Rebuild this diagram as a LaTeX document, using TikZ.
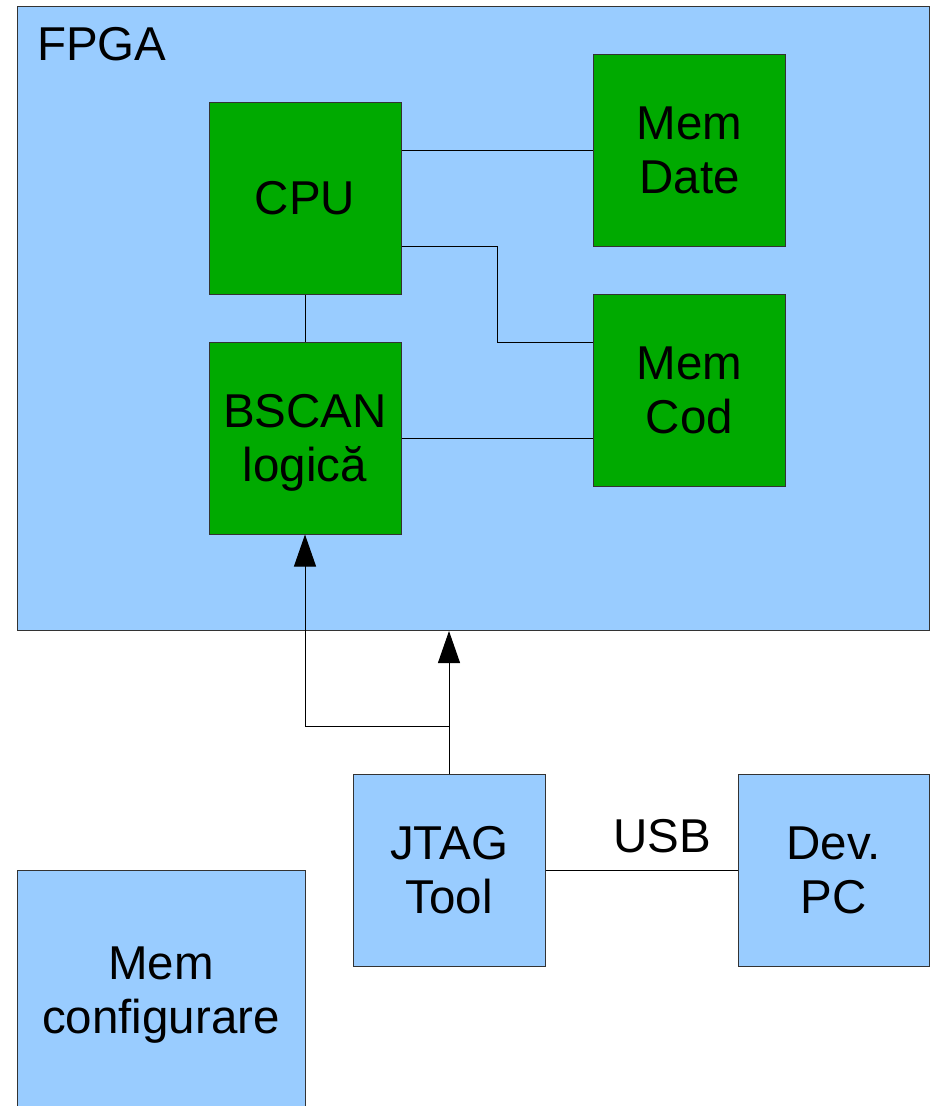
\documentclass[tikz,border=0pt]{standalone}
\usepackage{fontspec}
\setmainfont{Liberation Sans}
\usetikzlibrary{arrows.meta,positioning}
\definecolor{lblue}{HTML}{99CCFF}
\definecolor{dgreen}{HTML}{00AA00}
\definecolor{edge}{HTML}{333333}
\begin{document}
\begin{tikzpicture}[x=1pt,y=-1pt,
  every node/.style={font=\fontsize{47.5}{54}\selectfont},
  bluebox/.style={draw=edge,line width=1pt,fill=lblue,inner sep=0pt,align=center},
  greenbox/.style={draw=edge,line width=1pt,fill=dgreen,inner sep=0pt,align=center,minimum width=192pt,minimum height=192pt},
  wire/.style={draw=black,line width=1pt},
  arr/.style={wire,-{Triangle[width=22pt,length=32pt]}}]
\useasboundingbox (0,0) rectangle (934,1106);
\node[bluebox,anchor=north west,minimum width=912pt,minimum height=624pt] (fpga) at (17,6) {};
\node[anchor=base west,inner sep=0pt] (fpgal) at (37,60) {FPGA};
\node[greenbox] (cpu) at (305,198) {CPU};
\node[greenbox] (date) at (689.5,150) {Mem\\Date};
\node[greenbox] (cod) at (689.5,390) {Mem\\Cod};
\node[greenbox] (bscan) at (305,438) {};
\node[align=center,inner sep=0pt] (bscant) at (305,443) {BSCAN\\logică};
\node[bluebox,minimum width=192pt,minimum height=192pt] (jtag) at (449,870) {JTAG\\Tool};
\node[bluebox,minimum width=191pt,minimum height=192pt] (pc) at (833.5,870) {Dev.\\PC};
\node[bluebox,minimum width=288pt,minimum height=250pt] (cfg) at (161,995) {Mem\\configurare};
\node[anchor=base,inner sep=0pt] (usb) at (662,852) {USB};
\coordinate (m1) at (497,246);
\coordinate (m2) at (497,342);
\coordinate (j1) at (449,726);
\coordinate (j2) at (305,726);
\draw[wire] (cpu.east |- date.west) -- (date.west);
\draw[wire] (cpu.east |- m1) -- (m1) -- (m2) -- (cod.west |- m2);
\draw[wire] (bscan.east) -- (cod.west |- bscan.east);
\draw[wire] (cpu.south) -- (bscan.north);
\draw[wire] (jtag.east) -- (pc.west);
\draw[arr] (jtag.north) -- (jtag.north |- fpga.south);
\draw[arr] (j1) -- (j2) -- (bscan.south);
\end{tikzpicture}
\end{document}
